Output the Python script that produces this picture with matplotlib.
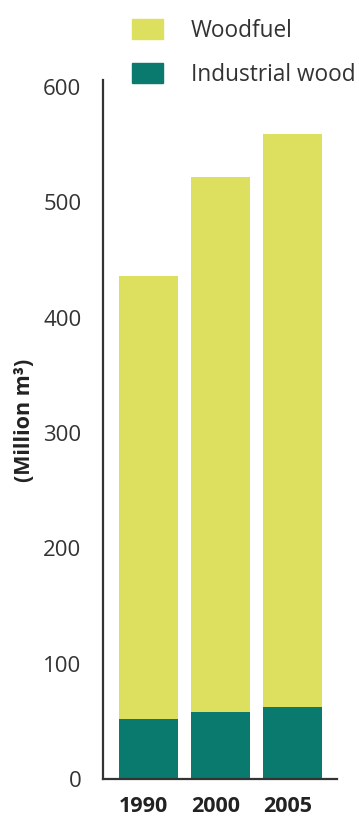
import numpy as np
import matplotlib.pyplot as plt
import matplotlib.transforms as mtransforms
from matplotlib.patches import Patch

# data (million m3)
years = ["1990", "2000", "2005"]
industrial_wood = [52, 58, 62]
woodfuel = [384, 464, 497]

woodfuel_color = "#dddf5f"
industrial_color = "#0a7a6f"
text_color = "#333333"

plt.rcParams['font.family'] = ['Open Sans', 'DejaVu Sans']

fig = plt.figure(figsize=(3.59, 8.16), dpi=100)
ax = fig.add_axes([103 / 359, 1 - 779 / 816, (337 - 103) / 359, (779 - 80) / 816])

x = np.arange(len(years))
ax.bar(x, industrial_wood, width=0.82, color=industrial_color)
ax.bar(x, woodfuel, width=0.82, bottom=industrial_wood, color=woodfuel_color)

ax.set_xlim(-0.632, 2.618)
ax.set_ylim(0, 606)
ax.set_yticks([0, 100, 200, 300, 400, 500, 600])
ax.set_xticks(x)
ax.set_xticklabels(years, fontweight="bold", fontsize=15.5, color="#222222")
ax.tick_params(axis="y", length=0, pad=15.5, labelsize=16, labelcolor=text_color)
ax.tick_params(axis="x", length=0, pad=12.5)

# year labels sit a little left of the bar centres in the original
shift = mtransforms.ScaledTranslation(-5 / 100, 0, fig.dpi_scale_trans)
for lab in ax.get_xticklabels():
    lab.set_transform(lab.get_transform() + shift)

for s in ["top", "right"]:
    ax.spines[s].set_visible(False)
for s in ["left", "bottom"]:
    ax.spines[s].set_color("#333333")
    ax.spines[s].set_linewidth(1.6)

ax.set_ylabel("(Million m³)", fontweight="bold", fontsize=15.5, color="#222222")
ax.yaxis.set_label_coords((35 - 103) / 234, (779 - 420) / 699)

handles = [Patch(color=woodfuel_color), Patch(color=industrial_color)]
fig.legend(handles, ["Woodfuel", "Industrial wood"], loc="upper left",
           bbox_to_anchor=(132 / 359, 1 - 19 / 816), frameon=False, fontsize=16.3,
           handlelength=1.37, handleheight=0.97, handletextpad=1.24,
           labelspacing=0.88, borderpad=0, borderaxespad=0,
           labelcolor=text_color)

fig.savefig("out.png", dpi=100)
